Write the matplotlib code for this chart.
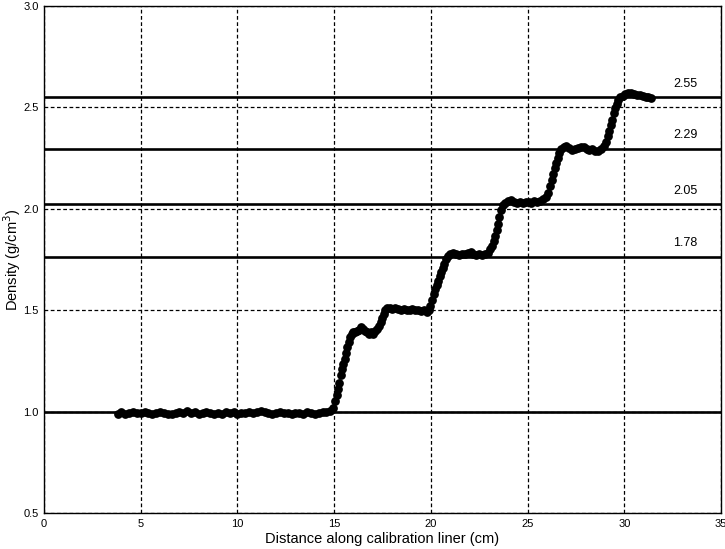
import numpy as np
from matplotlib import pyplot as plt

plt.rcParams['font.family'] = ['Liberation Sans', 'DejaVu Sans']

# calibration standards (line level, printed label)
std_levels = [1.0, 1.762, 2.022, 2.295, 2.55]
std_labels = ['', '1.78', '2.05', '2.29', '2.55']

# measured density along the liner
dist = [3.8, 4.0, 4.2, 4.4, 4.6, 4.8, 5.0, 5.2, 5.4, 5.6, 5.8, 6.0, 6.2, 6.4, 6.6, 6.8,
        7.0, 7.2, 7.4, 7.6, 7.8, 8.0, 8.2, 8.4, 8.6, 8.8, 9.0, 9.2, 9.4, 9.6, 9.8, 10.0,
        10.2, 10.4, 10.6, 10.8, 11.0, 11.2, 11.4, 11.6, 11.8, 12.0, 12.2, 12.4, 12.6, 12.8,
        13.0, 13.2, 13.4, 13.6, 13.8, 14.0, 14.2, 14.4, 14.6, 14.8,
        14.94, 15.04, 15.13, 15.2, 15.27, 15.34, 15.41, 15.48, 15.55, 15.62, 15.69, 15.76,
        15.84, 15.92, 16.0, 16.1, 16.2, 16.3, 16.4, 16.5, 16.6, 16.7, 16.8, 16.9, 17.0,
        17.1, 17.2, 17.3, 17.4, 17.48, 17.56, 17.65, 17.75, 17.9, 18.0, 18.15, 18.3, 18.45,
        18.6, 18.75, 18.9, 19.05, 19.2, 19.35, 19.5, 19.65, 19.8, 19.9,
        19.98, 20.06, 20.14, 20.22, 20.3, 20.38, 20.46, 20.54, 20.62, 20.7, 20.8, 20.9,
        21.0, 21.15, 21.3, 21.45, 21.6, 21.75, 21.9, 22.05, 22.2, 22.35, 22.5, 22.65, 22.8,
        22.95, 23.05, 23.15, 23.24, 23.32, 23.4, 23.47, 23.54, 23.62, 23.72, 23.85, 24.0,
        24.15, 24.3, 24.45, 24.6, 24.75, 24.9, 25.05, 25.2, 25.35, 25.5, 25.65, 25.8, 25.95,
        26.08, 26.16, 26.24, 26.32, 26.4, 26.48, 26.56, 26.64, 26.75, 26.86, 27.0, 27.15,
        27.3, 27.45, 27.6, 27.75, 27.9, 28.05, 28.2, 28.35, 28.5, 28.65, 28.8, 28.95, 29.05,
        29.14, 29.22, 29.3, 29.38, 29.46, 29.54, 29.62, 29.7, 29.8, 29.92, 30.05, 30.2,
        30.35, 30.5, 30.65, 30.8, 30.95, 31.1, 31.25, 31.4]
dens = [0.99, 1.0, 0.99, 0.995, 1.0, 0.995, 0.995, 1.0, 0.995, 0.99, 0.995, 1.0, 0.995,
        0.99, 0.99, 0.995, 1.0, 0.995, 1.005, 0.995, 1.0, 0.99, 0.995, 1.0, 0.995, 0.99,
        0.995, 0.99, 1.0, 0.995, 1.0, 0.99, 0.995, 0.995, 1.0, 0.995, 1.0, 1.005, 1.0,
        0.995, 0.99, 0.995, 1.0, 0.995, 0.995, 0.99, 0.995, 0.995, 0.99, 1.0, 0.995, 0.99,
        0.995, 1.0, 1.0, 1.005,
        1.02, 1.05, 1.08, 1.11, 1.14, 1.18, 1.21, 1.235, 1.26, 1.29, 1.32, 1.345,
        1.37, 1.385, 1.39, 1.39, 1.395, 1.4, 1.415, 1.405, 1.395, 1.39, 1.385, 1.39, 1.385,
        1.395, 1.405, 1.42, 1.44, 1.46, 1.48, 1.5, 1.51, 1.51, 1.505, 1.51, 1.505, 1.5,
        1.505, 1.5, 1.5, 1.505, 1.5, 1.5, 1.495, 1.5, 1.49, 1.5,
        1.52, 1.55, 1.58, 1.605, 1.625, 1.645, 1.67, 1.69, 1.71, 1.73, 1.75, 1.765,
        1.775, 1.78, 1.775, 1.77, 1.775, 1.775, 1.78, 1.785, 1.775, 1.77, 1.775, 1.77, 1.775,
        1.78, 1.8, 1.815, 1.84, 1.865, 1.895, 1.925, 1.96, 1.995, 2.02, 2.03, 2.04,
        2.045, 2.035, 2.03, 2.035, 2.03, 2.035, 2.035, 2.03, 2.04, 2.035, 2.04, 2.05, 2.06,
        2.08, 2.11, 2.14, 2.17, 2.2, 2.225, 2.25, 2.275, 2.295, 2.305, 2.31, 2.3,
        2.29, 2.295, 2.3, 2.305, 2.305, 2.295, 2.29, 2.295, 2.285, 2.285, 2.295, 2.31, 2.33,
        2.36, 2.385, 2.415, 2.44, 2.47, 2.495, 2.515, 2.535, 2.55, 2.555, 2.565, 2.57,
        2.57, 2.565, 2.56, 2.56, 2.555, 2.55, 2.55, 2.545]

fig = plt.figure(figsize=(7.25, 5.49), dpi=100)
ax = fig.add_axes([0.0607, 0.0656, 0.9338, 0.9235])

for lvl, lab in zip(std_levels, std_labels):
    ax.axhline(lvl, color='black', linewidth=1.9, zorder=2)
    if lab:
        ax.text(33.15, lvl + 0.067, lab, ha='center', va='center', fontsize=9)

ax.plot(dist, dens, '-', color='#555555', linewidth=0.6, zorder=3)
ax.plot(dist, dens, 'o', color='black', markersize=6.3, markeredgewidth=0, zorder=4)

ax.set_xlim(0, 35)
ax.set_ylim(0.5, 3.0)
ax.set_xticks(np.arange(0, 36, 5))
ax.set_yticks([0.5, 1.0, 1.5, 2.0, 2.5, 3.0])
ax.set_yticklabels(['0.5', '1.0', '1.5', '2.0', '2.5', '3.0'])
ax.grid(True, color='black', linestyle=(0, (3, 2)), linewidth=0.9, zorder=1)
ax.tick_params(length=0, labelsize=8)
ax.tick_params(axis='y', pad=4)
ax.tick_params(axis='x', pad=4)
for s in ax.spines.values():
    s.set_linewidth(1.0)

ax.set_xlabel('Distance along calibration liner (cm)', fontsize=10.5)
ax.set_ylabel('Density (g/cm$^3$)', fontsize=10.5)
ax.xaxis.set_label_coords(0.5, -0.038)
ax.yaxis.set_label_coords(-0.031, 0.5)

fig.savefig('out.png', dpi=100)
